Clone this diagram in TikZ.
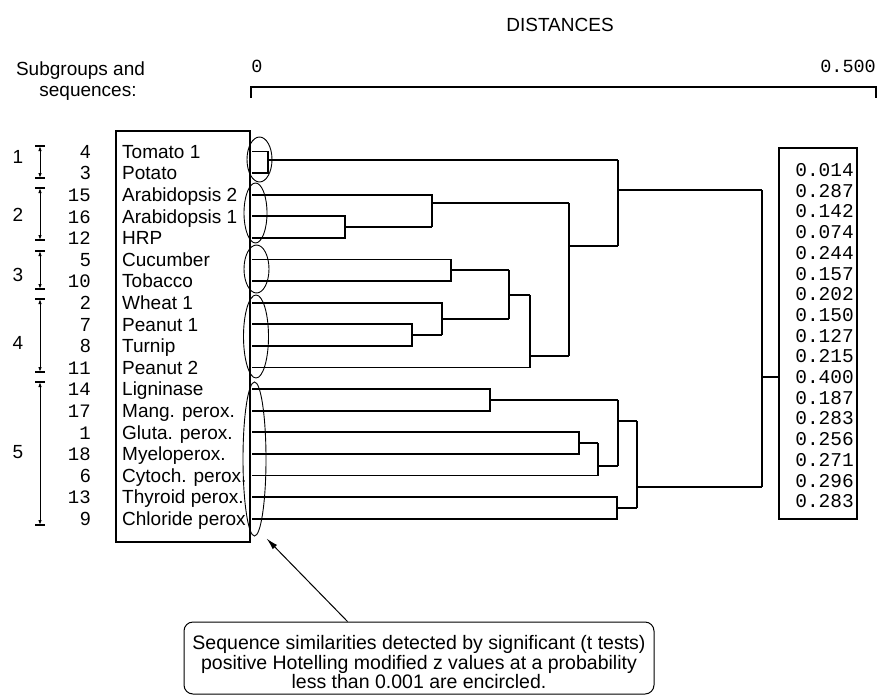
\documentclass[tikz,border=0pt]{standalone}
\usepackage{fontspec}
\setmainfont{Liberation Sans}
\newfontfamily\monof{Liberation Mono}
\usetikzlibrary{shapes.geometric,arrows.meta,calc}
\begin{document}
\begin{tikzpicture}[x=1pt,y=-1pt,
  lab/.style={anchor=base west, inner sep=0pt, font=\fontsize{19}{20}\selectfont},
  numtxt/.style={anchor=base east, inner sep=0pt},
  val/.style={anchor=base east, inner sep=0pt, font=\monof\fontsize{19.5}{20}\selectfont},
  tree/.style={line width=1.8pt, line join=miter},
  thinline/.style={line width=1.1pt},
  encircle/.style={draw, ellipse, inner sep=0pt, line width=0.9pt},
  dimline/.style={line width=1pt, {Latex[length=5pt,width=3.5pt]}-{Latex[length=5pt,width=3.5pt]}},
  notebox/.style={draw, rounded corners=9pt, line width=1pt, minimum width=470pt, minimum height=72pt, inner sep=0pt}
]
\useasboundingbox (0,0) rectangle (880,696);
\fill[white] (0,0) rectangle (880,696);

% titles
\node[inner sep=0pt, font=\fontsize{19}{20}\selectfont] (dist) at (560,25) {DISTANCES};
\node[anchor=base, inner sep=0pt, font=\fontsize{19}{20}\selectfont] (sub1) at (80.5,75.8) {Subgroups and};
\node[anchor=base, inner sep=0pt, font=\fontsize{19}{20}\selectfont] (sub2) at (88,96.8) {sequences:};
\node[anchor=base, inner sep=0pt, font=\monof\fontsize{18.5}{20}\selectfont] (zero) at (257,72) {0};
\node[anchor=base east, inner sep=0pt, font=\monof\fontsize{18.5}{20}\selectfont] (half) at (876,72) {0.500};
\draw[thinline] (251,98) -- (251,87) -- (876,87) -- (876,98);

% label box
\draw[thinline] (116,131) rectangle (250,542);
\foreach \lbl [count=\i from 0] in {Tomato 1,Potato,Arabidopsis 2,Arabidopsis 1,HRP,Cucumber,Tobacco,Wheat 1,Peanut 1,Turnip,Peanut 2,Ligninase,Mang. perox.,Gluta. perox.,Myeloperox.,Cytoch. perox.,Thyroid perox.,Chloride perox}
  \node[lab] (lab\i) at (122,{151.5+21.6*\i+6.8}) {\lbl};

% sequence numbers
\foreach \n/\f [count=\i from 0] in {4/\rmfamily,3/\rmfamily,15/\monof,16/\monof,12/\monof,5/\rmfamily,10/\monof,2/\rmfamily,7/\rmfamily,8/\rmfamily,11/\monof,14/\monof,17/\monof,1/\monof,18/\monof,6/\rmfamily,13/\monof,9/\rmfamily}
  \node[numtxt, font={\f\fontsize{19}{20}\selectfont}] (num\i) at (91,{151.5+21.6*\i+6.8}) {\n};

% subgroup numbers and ranges
\node[inner sep=0pt, font=\fontsize{19}{20}\selectfont] (sg1) at (18,157) {1};
\node[inner sep=0pt, font=\fontsize{19}{20}\selectfont] (sg2) at (18,215) {2};
\node[inner sep=0pt, font=\fontsize{19}{20}\selectfont] (sg3) at (18,275) {3};
\node[inner sep=0pt, font=\fontsize{19}{20}\selectfont] (sg4) at (18,343) {4};
\node[inner sep=0pt, font=\fontsize{19}{20}\selectfont] (sg5) at (18,452) {5};
\foreach \a/\b in {146/178,188/240,251/289,299/372,382/525}{
  \draw[thinline] (35,\a) -- (45,\a);
  \draw[thinline] (35,\b) -- (45,\b);
  \draw[dimline] (40,\a) -- (40,\b);
}

% dendrogram
\draw[tree] (252,151.5) -- (268,151.5) -- (268,173.1) -- (252,173.1);
\draw[tree] (268,160) -- (618,160);
\draw[tree] (252,216.3) -- (345,216.3) -- (345,237.9) -- (252,237.9);
\draw[tree] (345,227.1) -- (432,227.1);
\draw[tree] (252,194.7) -- (432,194.7) -- (432,227.1);
\draw[tree] (432,203) -- (569,203);
\draw[tree] (252,259.5) -- (451,259.5) -- (451,281.1) -- (252,281.1);
\draw[tree] (451,270.3) -- (509,270.3);
\draw[tree] (252,324.3) -- (412,324.3) -- (412,345.9) -- (252,345.9);
\draw[tree] (412,335.1) -- (442,335.1);
\draw[tree] (252,302.7) -- (442,302.7) -- (442,335.1);
\draw[tree] (442,318.9) -- (509,318.9);
\draw[tree] (509,270.3) -- (509,318.9);
\draw[tree] (509,294.6) -- (530,294.6);
\draw[tree] (252,367.5) -- (530,367.5) -- (530,294.6);
\draw[tree] (530,356) -- (569,356);
\draw[tree] (569,203) -- (569,356);
\draw[tree] (569,246) -- (618,246);
\draw[tree] (618,160) -- (618,246);
\draw[tree] (618,190) -- (762,190);
% lower cluster
\draw[tree] (252,389.1) -- (490,389.1) -- (490,410.7) -- (252,410.7);
\draw[tree] (490,399.9) -- (618,399.9);
\draw[tree] (252,432.3) -- (579,432.3) -- (579,453.9) -- (252,453.9);
\draw[tree] (579,443.1) -- (598,443.1);
\draw[tree] (252,475.5) -- (598,475.5) -- (598,443.1);
\draw[tree] (598,466) -- (618,466);
\draw[tree] (618,399.9) -- (618,466);
\draw[tree] (618,421) -- (637,421);
\draw[tree] (252,497.1) -- (617,497.1) -- (617,518.7) -- (252,518.7);
\draw[tree] (617,507.9) -- (637,507.9);
\draw[tree] (637,421) -- (637,507.9);
\draw[tree] (637,487) -- (762,487);
\draw[tree] (762,190) -- (762,487);

% values box
\draw[thinline] (779,148) rectangle (857,519);
\foreach \v [count=\i from 0] in {0.014,0.287,0.142,0.074,0.244,0.157,0.202,0.150,0.127,0.215,0.400,0.187,0.283,0.256,0.271,0.296,0.283}
  \node[val] (val\i) at (854,{170+20.7*\i+6.5}) {\v};
\coordinate (rootstub) at (762,377);
\draw[tree] (rootstub) -- (rootstub -| 779,0);

% encircled groups
\node[encircle, minimum width=25pt, minimum height=45pt] (e1) at (259.5,159.5) {};
\node[encircle, minimum width=23pt, minimum height=60pt] (e2) at (255.5,213) {};
\node[encircle, minimum width=25pt, minimum height=48pt] (e3) at (256.5,269) {};
\node[encircle, minimum width=25pt, minimum height=83pt] (e4) at (256,336.5) {};
\node[encircle, minimum width=23pt, minimum height=154pt] (e5) at (254.5,459) {};

% note
\node[notebox] (note) at (419,658) {};
\node[align=center, inner sep=0pt, font=\fontsize{19.5}{19.5}\selectfont] (notetext) at (419,662.5) {Sequence similarities detected by significant (t tests)\\positive Hotelling modified z values at a probability\\less than 0.001 are encircled.};
\coordinate (astart) at ($(note.north west)+(164,0)$);
\coordinate (aend) at ($(e5.south)+(12,2)$);
\draw[line width=1pt, -{Latex[length=12pt,width=6pt]}] (astart) -- (aend);
\end{tikzpicture}
\end{document}
